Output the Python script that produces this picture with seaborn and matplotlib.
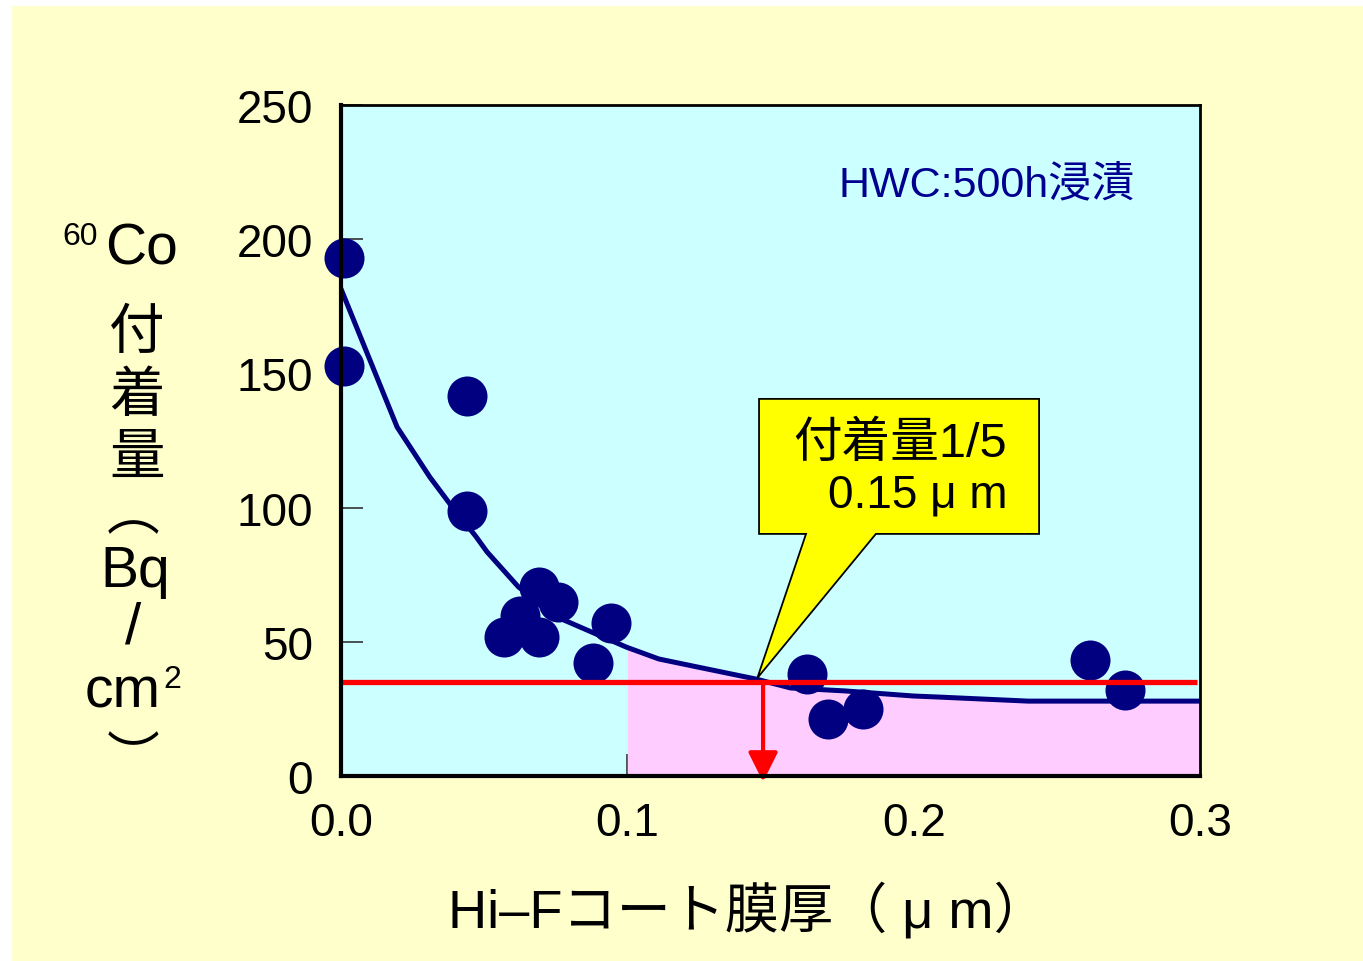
import numpy as np
import pandas as pd
import matplotlib
matplotlib.use("Agg")
import matplotlib.pyplot as plt
from matplotlib.patches import Rectangle, Polygon
import seaborn as sns

# ---------------- data ----------------
thickness_um = [0.001, 0.001, 0.044, 0.044, 0.069, 0.0758, 0.0625, 0.057, 0.069,
                0.0943, 0.088, 0.1627, 0.170, 0.1823, 0.2616, 0.2738]
co60_bq = [192.9, 152.8, 141.6, 98.7, 70.4, 64.8, 59.6, 51.8, 51.8,
           57.0, 42.1, 38.0, 21.2, 25.0, 43.2, 32.0]

curve_x = [0.0, 0.0196, 0.031, 0.039, 0.047, 0.051, 0.062, 0.077, 0.0997,
           0.111, 0.125, 0.145, 0.157, 0.176, 0.2, 0.209, 0.24, 0.3]
curve_y = [181.5, 130.0, 111.4, 100.0, 89.4, 83.5, 70.4, 58.5, 48.0,
           43.6, 40.5, 36.1, 32.8, 31.7, 29.8, 29.4, 27.9, 27.9]

level_one_fifth = 35.0       # 付着量 1/5
thickness_at_level = 0.1474  # ~0.15 μm
pink_from = 0.1

x_ticks = [0.0, 0.1, 0.2, 0.3]
x_tick_labels = ["0.0", "0.1", "0.2", "0.3"]
y_ticks = [0, 50, 100, 150, 200, 250]
y_tick_labels = ["0", "50", "100", "150", "200", "250"]

callout_lines = ["付着量1/5", "0.15 μ m"]
condition_text = "HWC:500h浸漬"
x_label = "Hi–Fコート膜厚（ μ m）"

# ---------------- style ----------------
sns.set_theme(style="white")
plt.rcParams['font.family'] = ['Liberation Sans', 'Noto Sans CJK JP', 'DejaVu Sans']

W, H = 1363, 962
fig = plt.figure(figsize=(W / 100, H / 100), dpi=100)
fig.patch.set_facecolor("white")
fig.patches.append(Rectangle((12 / W, 0), 1 - 12 / W, 1 - 7 / H,
                             transform=fig.transFigure, facecolor="#FFFFCC",
                             edgecolor="none", zorder=-10))


def px(x, y):
    return x / W, 1 - y / H


ax = fig.add_axes([341 / W, 1 - 777 / H, (1200 - 341) / W, (777 - 106) / H])
ax.set_zorder(1)
ax.set_facecolor("#CCFFFF")
ax.set_xlim(0, 0.3)
ax.set_ylim(0, 250)

df_pts = pd.DataFrame({"x": thickness_um, "y": co60_bq})
df_curve = pd.DataFrame({"x": curve_x, "y": curve_y})

# pink region under the curve beyond 0.1 μm
cx = np.array(curve_x)
cy = np.array(curve_y)
mask = cx >= pink_from
fx = np.concatenate([[pink_from], cx[mask]])
fy = np.concatenate([[np.interp(pink_from, cx, cy)], cy[mask]])
ax.fill_between(fx, 0, fy, color="#FFCCFF", linewidth=0, zorder=1)

sns.lineplot(data=df_curve, x="x", y="y", ax=ax, color="#000080",
             linewidth=3.6, zorder=3, estimator=None, sort=False)
sns.scatterplot(data=df_pts, x="x", y="y", ax=ax, color="#000080",
                s=830, linewidth=0, zorder=4, clip_on=False)

# red reference line and arrow
ax.hlines(level_one_fifth, 0, 0.299, color="#FF0000", linewidth=3.8, zorder=5)
ax.annotate("", xy=(thickness_at_level, -2.2), xytext=(thickness_at_level, level_one_fifth),
            arrowprops=dict(arrowstyle="-|>,head_length=1.5,head_width=0.75",
                            color="#FF0000", lw=3.0, shrinkA=0, shrinkB=0),
            annotation_clip=False, zorder=6)

# callout
verts = [(0.146, 140.5), (0.2438, 140.5), (0.2438, 90.2), (0.1868, 90.2),
         (thickness_at_level - 0.002, level_one_fifth + 1.5), (0.1624, 90.2), (0.146, 90.2)]
ax.add_patch(Polygon(verts, closed=True, facecolor="#FFFF00", edgecolor="black",
                     linewidth=1.3, zorder=7))
ax.text(0.2327, 124.0, callout_lines[0], fontsize=35, ha="right", va="center",
        color="black", zorder=8)
ax.text(0.2327, 105.0, callout_lines[1], fontsize=33, ha="right", va="center",
        color="black", zorder=8)

ax.text(0.1736, 220.5, condition_text, fontsize=31, ha="left", va="center",
        color="#000090", zorder=8)

# axes styling
for side, lw in [("left", 3.0), ("bottom", 3.0), ("top", 2.0), ("right", 2.0)]:
    ax.spines[side].set_visible(True)
    ax.spines[side].set_color("black")
    ax.spines[side].set_linewidth(lw)
    ax.spines[side].set_zorder(9)

ax.set_xticks(x_ticks)
ax.set_xticklabels(x_tick_labels)
ax.set_yticks(y_ticks)
ax.set_yticklabels(y_tick_labels)
ax.tick_params(axis="both", direction="in", length=16, width=1.2, color="#333333",
               labelsize=33, labelcolor="black", bottom=True, left=True)
ax.tick_params(axis="y", pad=20)
ax.tick_params(axis="x", pad=18)

ax.set_xlabel(x_label, fontsize=39, color="black")
ax.xaxis.set_label_coords((748 - 341) / 859, (777 - 910) / 671)
ax.xaxis.label.set_va("center")
ax.set_ylabel("")

# vertical y-axis label
fig.text(*px(80, 237), "60", fontsize=23, ha="center", va="center", color="black")
fig.text(*px(141, 250), "Co", fontsize=41, ha="center", va="center", color="black")
for ch, yy in [("付", 335), ("着", 398), ("量", 460)]:
    fig.text(*px(137, yy), ch, fontsize=40, ha="center", va="center", color="black")
fig.text(*px(133, 515), "︵", fontsize=38, ha="center", va="center", color="black",
         family=['Noto Sans CJK JP'])
fig.text(*px(135, 572), "Bq", fontsize=41, ha="center", va="center", color="black")
fig.text(*px(133, 628), "/", fontsize=42, ha="center", va="center", color="black")
fig.text(*px(123, 692), "cm", fontsize=41, ha="center", va="center", color="black")
fig.text(*px(172, 680), "2", fontsize=23, ha="center", va="center", color="black")
fig.text(*px(133, 760), "︶", fontsize=38, ha="center", va="center", color="black",
         family=['Noto Sans CJK JP'])

fig.savefig("out.png", dpi=100)
